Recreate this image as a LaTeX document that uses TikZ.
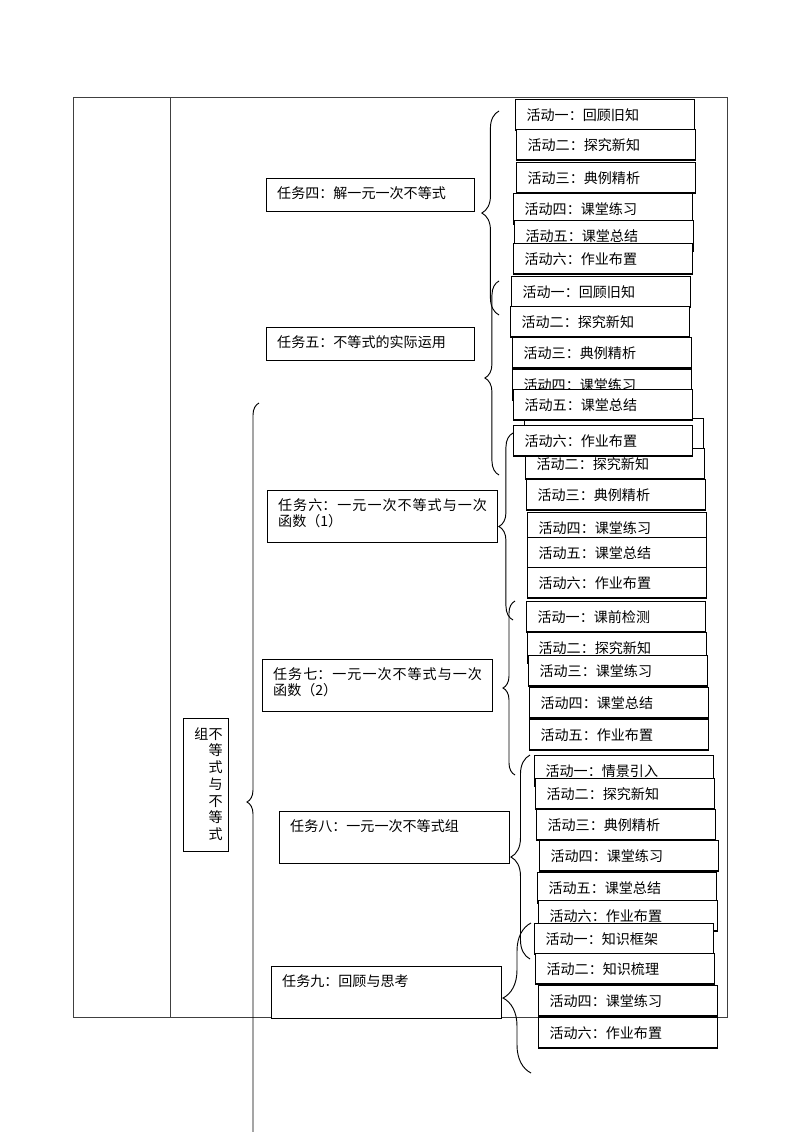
\documentclass[tikz,border=0pt]{standalone}
\usepackage{fontspec}
\setmainfont{Noto Sans CJK SC}
\usetikzlibrary{decorations.pathreplacing}
\XeTeXlinebreaklocale "zh"
\XeTeXlinebreakskip=0pt plus 1pt
\newcommand{\tasktext}[3]{\parbox[c][#1][t]{#2}{\rule{0pt}{5.2mm}#3}}
\begin{document}
\begin{tikzpicture}[x=0.2625mm,y=-0.2625mm,
  every node/.style={font={\fontsize{10.5pt}{4.2mm}\selectfont}},
  act/.style={draw,line width=0.8pt,fill=white,anchor=north west,inner xsep=2.9mm,
    text width=41.2mm,align=left,minimum height=8mm},
  task/.style={draw,line width=0.8pt,fill=white,anchor=north west,inner xsep=2.8mm,inner ysep=0pt},
  taskbrace/.style={decorate,decoration={brace,amplitude=#1},line width=0.7pt}]
 \path [use as bounding box] (0,0) rectangle (800,1132);
 \clip (0,0) rectangle (800,1132);
 \draw [line width=0.5pt,black!75] (73,97) rectangle (727,1017);
 \draw [line width=0.5pt,black!75] (170,97) -- (170,1017);
 \coordinate (b4top) at (499,111); \coordinate (b4bot) at (499,315);
 \coordinate (b5top) at (499,281); \coordinate (b5bot) at (499,475);
 \coordinate (b6top) at (513,433); \coordinate (b6bot) at (513,620);
 \coordinate (b7top) at (515,601); \coordinate (b7bot) at (515,775);
 \coordinate (b8top) at (530,755); \coordinate (b8bot) at (530,959);
 \coordinate (b9top) at (531,923); \coordinate (b9bot) at (531,1073);
 \coordinate (unittop) at (259,403); \coordinate (unitbot) at (259,1201);
 \draw [taskbrace=4.5mm] (b4bot) -- (b4top);
 \draw [taskbrace=3.7mm] (b5bot) -- (b5top);
 \draw [taskbrace=3.7mm] (b6bot) -- (b6top);
 \draw [taskbrace=3.15mm] (b7bot) -- (b7top);
 \draw [taskbrace=5mm] (b8bot) -- (b8top);
 \draw [taskbrace=7.35mm] (b9bot) -- (b9top);
 \draw [taskbrace=3.15mm] (unitbot) -- (unittop);
 \node [draw,line width=0.6pt,minimum width=11.8mm,minimum height=34.9mm,inner sep=0pt] (unit) at (205.5,784.5) {};
 \node [inner sep=0pt,font={\fontsize{10.5pt}{4.38mm}\selectfont}] (unittext) at (208.5,786)
  {\begin{tabular}{@{}c@{}c@{}}组&不\\&等\\&式\\&与\\&不\\&等\\&式\end{tabular}};
 \node [task] (t4) at (266,178) {\tasktext{8.66mm}{48.9mm}{任务四：解一元一次不等式}};
 \node [task] (t5) at (266,327) {\tasktext{8.66mm}{48.9mm}{任务五：不等式的实际运用}};
 \node [task] (t6) at (267,490) {\tasktext{13.65mm}{54.8mm}{任务六：一元一次不等式与一次函数（1）}};
 \node [task] (t7) at (262,659) {\tasktext{13.65mm}{54.8mm}{任务七：一元一次不等式与一次函数（2）}};
 \node [task] (t8) at (279,811) {\tasktext{13.65mm}{54.8mm}{任务八：一元一次不等式组}};
 \node [task] (t9) at (271,966) {\tasktext{13.65mm}{54.8mm}{任务九：回顾与思考}};
 \node [act] (a41) at (515,99) {活动一：回顾旧知};
 \node [act] (a42) at (516,129) {活动二：探究新知};
 \node [act] (a43) at (516,162) {活动三：典例精析};
 \node [act] (a44) at (513,193) {活动四：课堂练习};
 \node [act] (a45) at (514,220) {活动五：课堂总结};
 \node [act] (a46) at (513,243) {活动六：作业布置};
 \node [act] (a61) at (524,418) {};
 \node [act] (a62) at (525,448) {活动二：探究新知};
 \node [act] (a63) at (526,479) {活动三：典例精析};
 \node [act] (a64) at (527,512) {活动四：课堂练习};
 \node [act] (a65) at (527,537) {活动五：课堂总结};
 \node [act] (a66) at (527,567) {活动六：作业布置};
 \node [act] (a51) at (511,276) {活动一：回顾旧知};
 \node [act] (a52) at (510,306) {活动二：探究新知};
 \node [act] (a53) at (512,337) {活动三：典例精析};
 \node [act] (a54) at (512,369) {活动四：课堂练习};
 \node [act] (a55) at (513,389) {活动五：课堂总结};
 \node [act] (a56) at (513,425) {活动六：作业布置};
 \node [act] (a71) at (526,601) {活动一：课前检测};
 \node [act] (a72) at (527,632) {活动二：探究新知};
 \node [act] (a73) at (528,655) {活动三：课堂练习};
 \node [act] (a74) at (529,687) {活动四：课堂总结};
 \node [act] (a75) at (529,719) {活动五：作业布置};
 \node [act] (a81) at (534,755) {活动一：情景引入};
 \node [act] (a82) at (535,778) {活动二：探究新知};
 \node [act] (a83) at (536,809) {活动三：典例精析};
 \node [act] (a84) at (539,840) {活动四：课堂练习};
 \node [act] (a85) at (537,872) {活动五：课堂总结};
 \node [act] (a86) at (538,900) {活动六：作业布置};
 \node [act] (a91) at (534,923) {活动一：知识框架};
 \node [act] (a92) at (535,953) {活动二：知识梳理};
 \node [act] (a93) at (538,985) {活动四：课堂练习};
 \node [act] (a94) at (538,1017) {活动六：作业布置};
\end{tikzpicture}
\end{document}
